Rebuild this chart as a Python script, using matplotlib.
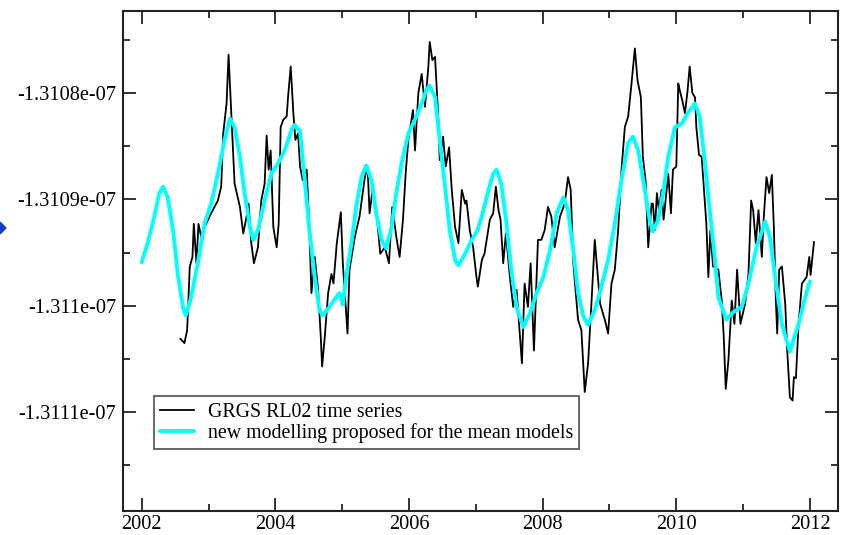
import numpy as np
import matplotlib
matplotlib.use('Agg')
from matplotlib import pyplot as plt
from matplotlib.ticker import FixedLocator, FuncFormatter
from matplotlib.patches import Polygon

# offsets in units of 1e-11 around the -1.3110e-07 level
base = -1.3110e-07
unit = 1e-11

# GRGS RL02 time series (10-day solutions)
grgs_year = [2002.58, 2002.64, 2002.68, 2002.72, 2002.76, 2002.78, 2002.82, 2002.85, 2002.89, 2002.94,
             2003.04, 2003.14, 2003.19, 2003.22, 2003.27, 2003.30, 2003.33, 2003.39, 2003.47, 2003.52,
             2003.57, 2003.60, 2003.64, 2003.68, 2003.74, 2003.79, 2003.84, 2003.87, 2003.90, 2003.93,
             2003.97, 2004.02, 2004.05, 2004.08, 2004.12, 2004.17, 2004.19, 2004.23, 2004.27, 2004.30,
             2004.34, 2004.37, 2004.41, 2004.47, 2004.51, 2004.54, 2004.59, 2004.64, 2004.68, 2004.70,
             2004.74, 2004.79, 2004.84, 2004.87, 2004.92, 2004.98, 2005.01, 2005.08, 2005.11, 2005.19,
             2005.26, 2005.34, 2005.38, 2005.41, 2005.46, 2005.52, 2005.57, 2005.64, 2005.70, 2005.75,
             2005.81, 2005.86, 2005.91, 2005.95, 2005.99, 2006.06, 2006.09, 2006.14, 2006.19, 2006.24,
             2006.29, 2006.31, 2006.35, 2006.39, 2006.44, 2006.46, 2006.51, 2006.55, 2006.60, 2006.64,
             2006.69, 2006.74, 2006.79, 2006.84, 2006.86, 2006.91, 2006.96, 2007.01, 2007.03, 2007.09,
             2007.13, 2007.21, 2007.26, 2007.30, 2007.34, 2007.37, 2007.41, 2007.45, 2007.51, 2007.56,
             2007.61, 2007.66, 2007.69, 2007.73, 2007.78, 2007.82, 2007.87, 2007.93, 2007.98, 2008.03,
             2008.08, 2008.13, 2008.18, 2008.26, 2008.33, 2008.38, 2008.42, 2008.46, 2008.48, 2008.53,
             2008.58, 2008.61, 2008.63, 2008.68, 2008.73, 2008.78, 2008.86, 2008.93, 2008.98, 2009.03,
             2009.08, 2009.13, 2009.18, 2009.23, 2009.28, 2009.33, 2009.38, 2009.42, 2009.47, 2009.50,
             2009.54, 2009.58, 2009.63, 2009.65, 2009.68, 2009.71, 2009.74, 2009.78, 2009.81, 2009.88,
             2009.92, 2009.95, 2010.00, 2010.03, 2010.05, 2010.09, 2010.13, 2010.17, 2010.20, 2010.24,
             2010.28, 2010.30, 2010.34, 2010.38, 2010.41, 2010.45, 2010.48, 2010.51, 2010.55, 2010.63,
             2010.68, 2010.71, 2010.74, 2010.78, 2010.83, 2010.87, 2010.91, 2010.96, 2011.03, 2011.08,
             2011.12, 2011.15, 2011.19, 2011.23, 2011.28, 2011.31, 2011.35, 2011.39, 2011.43, 2011.46,
             2011.49, 2011.51, 2011.54, 2011.58, 2011.63, 2011.66, 2011.70, 2011.74, 2011.76, 2011.79,
             2011.83, 2011.88, 2011.95, 2011.99, 2012.01, 2012.06]
grgs_val = [-0.31, -0.35, -0.23, 0.37, 0.46, 0.77, 0.40, 0.77, 0.65, 0.74,
            0.87, 0.99, 1.12, 1.62, 1.90, 2.36, 1.96, 1.15, 0.93, 0.68,
            0.84, 0.96, 0.59, 0.40, 0.55, 0.99, 1.15, 1.60, 1.28, 1.46,
            0.74, 0.55, 0.77, 1.68, 1.75, 1.78, 1.96, 2.25, 1.81, 1.56,
            1.62, 1.31, 1.18, 1.28, 0.71, 0.12, 0.46, 0.15, -0.29, -0.57,
            -0.29, 0.12, 0.30, 0.21, 0.59, 0.88, 0.40, -0.26, 0.34, 0.65,
            0.84, 1.21, 1.31, 0.87, 1.12, 0.84, 0.49, 0.55, 0.40, 0.93,
            0.65, 0.46, 0.81, 1.24, 1.56, 1.84, 1.46, 2.00, 2.18, 1.87,
            2.25, 2.48, 2.31, 2.34, 1.75, 1.37, 1.59, 1.31, 1.49, 1.09,
            0.74, 0.59, 1.09, 0.96, 0.99, 0.71, 0.55, 0.27, 0.18, 0.43,
            0.49, 0.81, 0.87, 1.12, 0.90, 0.81, 0.40, 0.68, 0.27, -0.01,
            0.15, -0.29, -0.54, 0.21, -0.01, 0.40, -0.42, 0.62, 0.62, 0.71,
            0.93, 0.84, 0.55, 0.84, 0.96, 1.21, 1.09, 0.40, 0.24, -0.13,
            -0.23, -0.57, -0.81, -0.54, 0.02, 0.62, 0.02, -0.13, -0.26, 0.21,
            0.34, 0.71, 1.28, 1.68, 1.78, 2.09, 2.42, 2.12, 1.96, 1.40,
            1.18, 0.55, 0.96, 0.96, 0.71, 1.06, 0.90, 1.09, 0.81, 1.24,
            0.87, 1.28, 1.31, 2.09, 2.03, 1.93, 1.81, 2.03, 2.25, 2.00,
            1.96, 1.68, 1.42, 1.40, 1.13, 0.77, 0.27, 0.71, 0.37, 0.34,
            0.05, -0.29, -0.78, -0.51, 0.05, -0.17, 0.34, -0.17, 0.02, 0.30,
            0.99, 0.90, 0.59, 0.90, 0.46, 0.84, 1.21, 1.06, 1.23, 0.74,
            0.05, -0.26, 0.34, 0.37, 0.02, -0.42, -0.86, -0.89, -0.67, -0.68,
            -0.17, 0.21, 0.27, 0.46, 0.29, 0.60]

# new modelling proposed for the mean models
model_year = [2002.00, 2002.09, 2002.19, 2002.26, 2002.32, 2002.39, 2002.47, 2002.54, 2002.62, 2002.66,
              2002.74, 2002.84, 2002.94, 2003.04, 2003.14, 2003.24, 2003.32, 2003.39, 2003.47, 2003.54,
              2003.62, 2003.67, 2003.74, 2003.84, 2003.94, 2004.04, 2004.14, 2004.24, 2004.29, 2004.37,
              2004.44, 2004.51, 2004.59, 2004.66, 2004.71, 2004.81, 2004.91, 2004.96, 2005.01, 2005.06,
              2005.14, 2005.21, 2005.29, 2005.36, 2005.44, 2005.51, 2005.59, 2005.66, 2005.74, 2005.81,
              2005.89, 2005.99, 2006.09, 2006.19, 2006.26, 2006.31, 2006.39, 2006.46, 2006.54, 2006.61,
              2006.69, 2006.74, 2006.84, 2006.94, 2007.02, 2007.09, 2007.19, 2007.26, 2007.31, 2007.38,
              2007.46, 2007.53, 2007.61, 2007.71, 2007.81, 2007.91, 2008.01, 2008.11, 2008.21, 2008.31,
              2008.38, 2008.46, 2008.53, 2008.61, 2008.68, 2008.78, 2008.88, 2008.98, 2009.08, 2009.18,
              2009.28, 2009.35, 2009.43, 2009.53, 2009.60, 2009.65, 2009.73, 2009.81, 2009.88, 2009.98,
              2010.08, 2010.18, 2010.28, 2010.35, 2010.42, 2010.49, 2010.57, 2010.63, 2010.75, 2010.85,
              2010.98, 2011.08, 2011.20, 2011.33, 2011.40, 2011.48, 2011.58, 2011.70, 2011.83, 2011.93,
              2012.00]
model_val = [0.41, 0.59, 0.84, 1.05, 1.12, 1.02, 0.71, 0.30, -0.02, -0.09,
             0.08, 0.40, 0.77, 0.96, 1.24, 1.56, 1.76, 1.68, 1.40, 1.06,
             0.74, 0.62, 0.71, 0.99, 1.24, 1.34, 1.46, 1.65, 1.70, 1.64,
             1.18, 0.71, 0.27, -0.04, -0.09, -0.01, 0.08, 0.12, 0.01, 0.27,
             0.59, 0.93, 1.21, 1.32, 1.18, 0.87, 0.62, 0.54, 0.74, 1.06,
             1.34, 1.62, 1.75, 1.90, 2.03, 2.07, 1.96, 1.56, 1.12, 0.71,
             0.43, 0.38, 0.49, 0.62, 0.70, 0.84, 1.09, 1.24, 1.28, 1.15,
             0.77, 0.34, -0.01, -0.20, -0.07, 0.12, 0.27, 0.52, 0.87, 1.02,
             0.90, 0.52, 0.12, -0.10, -0.18, -0.04, 0.18, 0.43, 0.77, 1.18,
             1.53, 1.59, 1.46, 1.09, 0.81, 0.70, 0.81, 1.09, 1.40, 1.68,
             1.71, 1.82, 1.90, 1.78, 1.40, 0.96, 0.49, 0.08, -0.13, -0.06,
             -0.01, 0.21, 0.55, 0.79, 0.65, 0.27, -0.17, -0.43, -0.17, 0.08,
             0.23]

grgs = base + np.array(grgs_val) * unit
model = base + np.array(model_val) * unit

plt.rcParams['font.family'] = ['Liberation Serif', 'DejaVu Serif']

fig = plt.figure(figsize=(8.44, 5.35), dpi=100)
ax = fig.add_axes([0.1457, 0.0449, 0.8472, 0.9345])

ax.plot(grgs_year, grgs, color='black', lw=1.3, solid_joinstyle='round', label='GRGS RL02 time series')
ax.plot(model_year, model, color='cyan', lw=2.8, solid_joinstyle='round', solid_capstyle='round',
        label='new modelling proposed for the mean models')

ax.set_xlim(2001.72, 2012.42)
ax.set_ylim(-1.3111928e-07, -1.3107229e-07)

ax.xaxis.set_major_locator(FixedLocator([2002, 2004, 2006, 2008, 2010, 2012]))
ax.xaxis.set_minor_locator(FixedLocator([2003, 2005, 2007, 2009, 2011]))
ax.xaxis.set_major_formatter(FuncFormatter(lambda x, p: '%d' % round(x)))
yt = [-1.3111e-07, -1.3110e-07, -1.3109e-07, -1.3108e-07]
ax.yaxis.set_major_locator(FixedLocator(yt))
ax.yaxis.set_minor_locator(FixedLocator([-1.31115e-07, -1.31105e-07, -1.31095e-07, -1.31085e-07, -1.31075e-07]))
ax.yaxis.set_major_formatter(FuncFormatter(lambda y, p: '%.5g' % y))

ax.tick_params(which='both', direction='in', top=True, right=True, labelsize=14.7, width=1.3, color='#222222')
ax.tick_params(which='major', length=9.5)
ax.tick_params(which='minor', length=5)
ax.tick_params(axis='y', pad=5)
ax.tick_params(axis='x', pad=3)
for s in ax.spines.values():
    s.set_linewidth(1.5)
    s.set_color('#222222')

leg = ax.legend(loc='lower left', bbox_to_anchor=(0.043, 0.124), fontsize=14.3, frameon=True, fancybox=False,
                handlelength=1.7, handletextpad=0.7, borderpad=0.32, labelspacing=0.05, borderaxespad=0)
leg.get_frame().set_edgecolor('#333333')
leg.get_frame().set_linewidth(1.3)

# slide bullet remnant at the left edge
fig.patches.append(Polygon([[0, 1 - 222 / 535.0], [0, 1 - 234 / 535.0], [6 / 844.0, 1 - 228 / 535.0]],
                           closed=True, transform=fig.transFigure, color='#1a3cc8', figure=fig))

plt.savefig('out.png', dpi=100)
